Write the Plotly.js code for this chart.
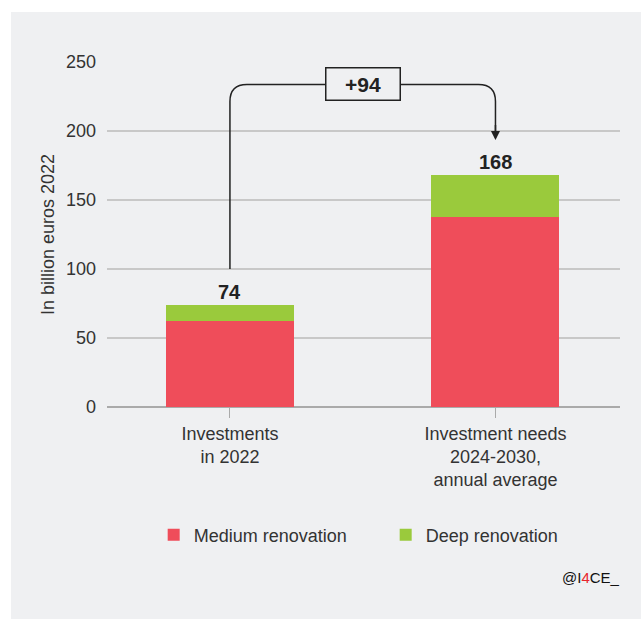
<!DOCTYPE html>
<html>
<head>
<meta charset="utf-8">
<script src="https://cdn.plot.ly/plotly-3.0.1.min.js"></script>
<style>
html,body{margin:0;padding:0;background:#fff;}
#chart{width:641px;height:619px;}
</style>
</head>
<body>
<div id="chart"></div>
<script>
// ---- data ----
var categories = ["Investments<br>in 2022", "Investment needs<br>2024-2030,<br>annual average"];
var mediumRenovation = [62, 138];
var deepRenovation = [12, 30];
var seriesNames = ["Medium renovation", "Deep renovation"];
var yTicks = [0, 50, 100, 150, 200, 250];

var totals = mediumRenovation.map(function (v, i) { return v + deepRenovation[i]; });
var diff = totals[1] - totals[0];

var FONT = "Liberation Sans, Arial, Helvetica, sans-serif";
var RED = "#ef4d5a", GREEN = "#9aca3c", BG = "#eff0f2", INK = "#222222";

var xIdx = [0, 1];

var traces = [
  { type: "bar", name: seriesNames[0], x: xIdx, y: mediumRenovation, marker: { color: RED, line: { width: 0 } }, width: 0.482, hoverinfo: "skip" },
  { type: "bar", name: seriesNames[1], x: xIdx, y: deepRenovation, marker: { color: GREEN, line: { width: 0 } }, width: 0.482, hoverinfo: "skip" }
];

// connector geometry (data units)
var yLine = 233.7;               // level of horizontal connector
var yStart = totals[0] + 26;     // starts above first bar label
var yTip = totals[1] + 25.5;     // arrow tip above second bar label
var rx = 0.064, ry = 12.3;        // corner radius
var connector = "M " + xIdx[0] + "," + yStart +
  " V " + (yLine - ry) +
  " Q " + xIdx[0] + "," + yLine + " " + (xIdx[0] + rx) + "," + yLine +
  " H " + (xIdx[1] - rx) +
  " Q " + xIdx[1] + "," + yLine + " " + xIdx[1] + "," + (yLine - ry) +
  " V " + (yTip + 4);

var annotations = [];
totals.forEach(function (t, i) {
  annotations.push({ x: xIdx[i], y: t, xref: "x", yref: "y", text: "<b>" + t + "</b>", showarrow: false,
    yanchor: "bottom", yshift: 0, font: { family: FONT, size: 20, color: INK } });
});
annotations.push({ x: (xIdx[0] + xIdx[1]) / 2, y: yLine, xref: "x", yref: "y", text: "<b>+" + diff + "</b>",
  showarrow: false, bgcolor: BG, bordercolor: INK, borderwidth: 1.5, borderpad: 0, width: 73, height: 31,
  font: { family: FONT, size: 21, color: INK } });
annotations.push({ x: xIdx[1], y: yTip, xref: "x", yref: "y", ax: xIdx[1], ay: yTip + 12, axref: "x", ayref: "y",
  text: "", showarrow: true, arrowhead: 2, arrowsize: 1.2, arrowwidth: 1.5, arrowcolor: INK, standoff: 0 });
annotations.push({ x: 1.004, y: -0.495, xref: "paper", yref: "paper", xanchor: "right", yanchor: "middle",
  text: "@I<span style='color:#e8262d'>4</span>CE_", showarrow: false,
  font: { family: FONT, size: 15, color: "#111" } });

var layout = {
  width: 641, height: 619,
  margin: { l: 107, r: 21, t: 62, b: 212, pad: 0 },
  paper_bgcolor: "#ffffff",
  plot_bgcolor: "rgba(0,0,0,0)",
  barmode: "stack",
  bargap: 0,
  showlegend: true,
  legend: { orientation: "h", x: 0.091, xanchor: "left", y: -0.371, yanchor: "middle",
    traceorder: "normal", entrywidth: 187, itemwidth: 30, bgcolor: "rgba(0,0,0,0)",
    font: { family: FONT, size: 18, color: "#333" } },
  xaxis: {
    range: [-0.463, 1.469], tickvals: xIdx, ticktext: categories, ticks: "outside", ticklen: 10,
    tickcolor: "#aaaaaa", tickwidth: 1, showgrid: false, zeroline: false, showline: false,
    tickfont: { family: FONT, size: 18, color: "#333" }, fixedrange: true
  },
  yaxis: {
    range: [0, 250], tickvals: yTicks, showgrid: true, gridcolor: "#c8c8c8", gridwidth: 1.5,
    zeroline: true, zerolinecolor: "#aaaaaa", zerolinewidth: 1.5, showline: false, ticks: "",
    ticklabelstandoff: 10,
    tickfont: { family: FONT, size: 18, color: "#333" },
    title: { text: "In billion euros 2022", standoff: 6, font: { family: FONT, size: 18, color: "#333" } },
    fixedrange: true
  },
  shapes: [
    { type: "rect", xref: "paper", yref: "paper", x0: -96 / 513, x1: 534 / 513, y0: -212 / 345, y1: 395 / 345,
      fillcolor: BG, line: { width: 0 }, layer: "below" },
    { type: "path", xref: "x", yref: "y", path: connector, line: { color: INK, width: 1.5 }, layer: "above" }
  ],
  annotations: annotations,
  hovermode: false
};

Plotly.newPlot("chart", traces, layout, { displayModeBar: false, staticPlot: true });
</script>
</body>
</html>
